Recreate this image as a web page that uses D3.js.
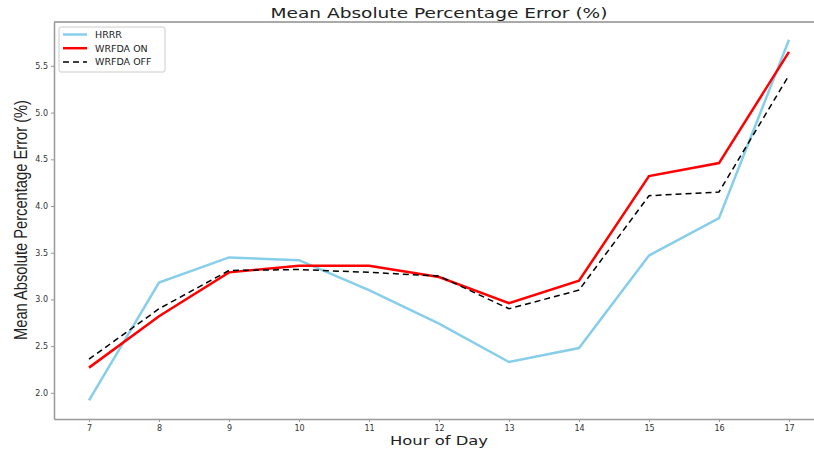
<!DOCTYPE html>
<html>
<head>
<meta charset="utf-8">
<script src="https://cdn.jsdelivr.net/npm/d3@7"></script>
<style>
  body { margin: 0; background: #fff; }
  .tick text { font-family: "DejaVu Sans", sans-serif; font-size: 8px; fill: #333; }
  .domain, .tick line { stroke: #999; }
</style>
</head>
<body>
<script>
// Data
const hours = [7, 8, 9, 10, 11, 12, 13, 14, 15, 16, 17];
const hrrr = [1.92, 3.18, 3.45, 3.42, 3.10, 2.74, 2.33, 2.48, 3.47, 3.87, 5.78];
const wrfdaOn = [2.27, 2.82, 3.29, 3.36, 3.36, 3.24, 2.96, 3.20, 4.32, 4.46, 5.65];
const wrfdaOff = [2.36, 2.90, 3.31, 3.32, 3.29, 3.25, 2.90, 3.10, 4.11, 4.15, 5.40];
const yTicks = [2.0, 2.5, 3.0, 3.5, 4.0, 4.5, 5.0, 5.5];

const series = [
    { name: "HRRR", values: hrrr, color: "#87ceeb", width: 2.5, dash: null },
    { name: "WRFDA ON", values: wrfdaOn, color: "#ff0000", width: 2.5, dash: null },
    { name: "WRFDA OFF", values: wrfdaOff, color: "#000000", width: 1.5, dash: "6,4" }
];

// Chart dimension
const width = 814;
const height = 451;
const plotLeft = 54, plotRight = 824, plotTop = 22, plotBottom = 419;
const midX = 439;

const svg = d3.select("body")
    .append("svg")
    .attr("width", width)
    .attr("height", height);

// Scales
const x = d3.scaleLinear().domain([6.5, 17.5]).range([plotLeft, plotRight]);
const y = d3.scaleLinear().domain([1.72, 5.97]).range([plotBottom, plotTop]);

// Frame (top spine, then axes)
svg.append("line")
    .attr("x1", plotLeft).attr("x2", plotRight)
    .attr("y1", plotTop).attr("y2", plotTop)
    .attr("stroke", "#555").attr("stroke-width", 1);

svg.append("g")
    .attr("transform", `translate(0, ${plotBottom})`)
    .call(d3.axisBottom(x).tickValues(hours).tickFormat(d3.format("d")).tickSize(3).tickSizeOuter(0))
    .call(g => g.select(".domain").attr("stroke-width", 1.5));

svg.append("g")
    .attr("transform", `translate(${plotLeft}, 0)`)
    .call(d3.axisLeft(y).tickValues(yTicks).tickFormat(d3.format(".1f")).tickSize(3).tickSizeOuter(0))
    .call(g => g.select(".domain").attr("stroke-width", 1.5));

// Lines
const line = d3.line()
    .x((d, i) => x(hours[i]))
    .y(d => y(d));

series.forEach(s => {
    svg.append("path")
        .datum(s.values)
        .attr("fill", "none")
        .attr("stroke", s.color)
        .attr("stroke-width", s.width)
        .attr("stroke-dasharray", s.dash)
        .attr("d", line);
});

// Title (reference text is stretched wide)
svg.append("text")
    .attr("x", midX)
    .attr("y", 18)
    .attr("text-anchor", "middle")
    .attr("textLength", 337)
    .attr("lengthAdjust", "spacingAndGlyphs")
    .style("font-family", "DejaVu Sans, sans-serif")
    .style("font-size", "14px")
    .attr("fill", "#222")
    .text("Mean Absolute Percentage Error (%)");

// x-axis label
svg.append("text")
    .attr("x", midX)
    .attr("y", 445)
    .attr("text-anchor", "middle")
    .attr("textLength", 98)
    .attr("lengthAdjust", "spacingAndGlyphs")
    .style("font-family", "DejaVu Sans, sans-serif")
    .style("font-size", "12.5px")
    .attr("fill", "#222")
    .text("Hour of Day");

// y-axis label
svg.append("text")
    .attr("transform", "translate(27, 220) rotate(-90) scale(1, 1.25)")
    .attr("text-anchor", "middle")
    .attr("textLength", 240)
    .attr("lengthAdjust", "spacingAndGlyphs")
    .style("font-family", "'Liberation Sans', Arial, sans-serif")
    .style("font-size", "14px")
    .attr("fill", "#222")
    .text("Mean Absolute Percentage Error (%)");

// Legend
const legend = svg.append("g").attr("transform", "translate(59, 27)");
legend.append("rect")
    .attr("width", 106).attr("height", 45).attr("rx", 2)
    .attr("fill", "#fff").attr("stroke", "#ccc");

series.forEach((s, i) => {
    const ly = 7.5 + i * 13.7;
    legend.append("line")
        .attr("x1", 4).attr("x2", 28)
        .attr("y1", ly).attr("y2", ly)
        .attr("stroke", s.color)
        .attr("stroke-width", s.width)
        .attr("stroke-dasharray", s.dash);
    legend.append("text")
        .attr("x", 36).attr("y", ly + 3.5)
        .style("font-family", "DejaVu Sans, sans-serif")
        .style("font-size", "9.5px")
        .attr("fill", "#222")
        .text(s.name);
});
</script>
</body>
</html>
